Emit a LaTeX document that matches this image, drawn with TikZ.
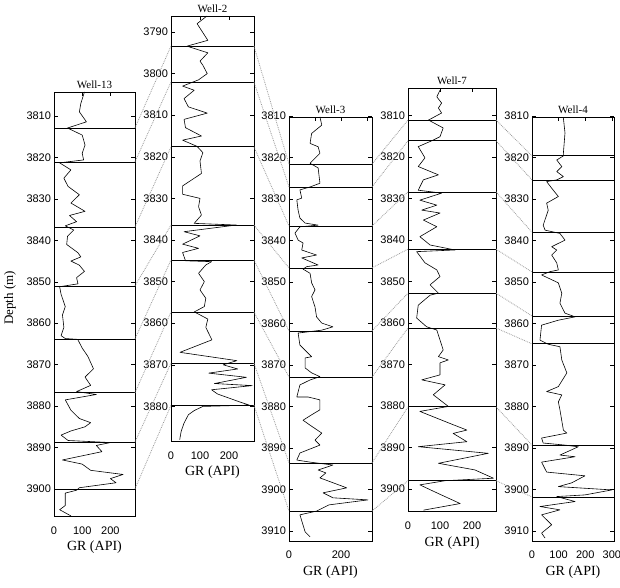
\documentclass[tikz,border=0pt]{standalone}
\usepackage{fontspec}
\setmainfont{Liberation Serif}
\newfontfamily\axisfont{Liberation Sans}
\begin{document}
\begin{tikzpicture}[x=1pt, y=-1pt,
    every node/.style={inner sep=0pt},
    caja/.style={draw, line width=0.7pt},
    limite/.style={line width=0.7pt},
    curva/.style={line width=0.6pt, line join=round},
    marca/.style={line width=0.5pt},
    correl/.style={gray!80, densely dotted, line width=0.8pt},
    prof/.style={font=\axisfont\fontsize{11}{13}\selectfont, anchor=east},
    gr/.style={font=\axisfont\fontsize{11}{13}\selectfont, anchor=north},
    titulo/.style={font=\fontsize{11}{13}\selectfont, anchor=south},
    etiqueta/.style={font=\fontsize{14}{16}\selectfont, anchor=north}
]
\useasboundingbox (0,0) rectangle (620,587);
% Eje de profundidad
\node[font=\fontsize{13}{15}\selectfont, rotate=90] (profundidad) at (10,298) {Depth (m)};
% Well-13
\begin{scope}[shift={(54,116)}, xscale=0.282, yscale=4.144]
\draw[caja] (0,-5.8) rectangle (287,96.5);
\node[titulo] (titulo13) at (143.5,-6.6) {Well-13};
\foreach \t in {0,10,...,90} {
  \pgfmathtruncatemacro\p{3810+\t}
  \draw[marca] (0,\t) -- (14,\t) (287,\t) -- (273,\t);
  \node[prof] at (-10,\t) {\p};
}
\foreach \g in {100,200} \draw[marca] (\g,-5.8) -- (\g,-4.8);
\foreach \g in {0,100,200} \node[gr] at (\g,99) {\g};
\node[etiqueta] (gr13) at (143.5,102.5) {GR (API)};
\draw[curva] plot coordinates {(108,-5.8)(95,-3)(90,-1)(115,1.4)(48,2.9)(100,4.6)(110,7)(100,9)(105,10.6)(20,11.3)(60,13)(35,15)(50,17)(90,19)(60,21)(110,23)(55,24)(80,25.5)(40,26.5)(70,27.5)(48,29)(45,31)(85,33)(95,34)(60,35)(90,36)(108,37.5)(80,39)(85,40.5)(20,41.2)(25,43)(40,46)(30,48)(35,51)(25,53)(40,53.7)(84,53.9)(100,56)(120,58)(140,61)(110,63)(130,65)(80,66.5)(150,67.2)(40,68.5)(60,71)(90,73)(130,74)(110,75)(60,76)(25,77)(50,78.3)(200,78.8)(150,79.5)(170,81)(30,83)(100,84)(130,85.5)(245,86.5)(200,87.5)(220,88.5)(90,89.7)(80,90.3)(40,91)(40,94)(20,95)(60,96.5)};
\foreach \d [count=\i] in {2.9,11.1,26.8,41.0,53.8,66.8,78.7,90.0}
  \draw[limite] (0,\d) coordinate (w13L\i) -- (287,\d) coordinate (w13R\i);
\end{scope}
% Well-2
\begin{scope}[shift={(171,32)}, xscale=0.29, yscale=4.16]
\draw[caja] (0,-3.85) rectangle (286,98.3);
\node[titulo] (titulo2) at (143,-4.6) {Well-2};
\foreach \t in {0,10,...,90} {
  \pgfmathtruncatemacro\p{3790+\t}
  \draw[marca] (0,\t) -- (14,\t) (286,\t) -- (272,\t);
  \node[prof] at (-10,\t) {\p};
}
\foreach \g in {100,200} \draw[marca] (\g,-3.85) -- (\g,-2.85);
\foreach \g in {0,100,200} \node[gr] at (\g,100.8) {\g};
\node[etiqueta] (gr2) at (143,104.3) {GR (API)};
\draw[curva] plot coordinates {(123,-3.8)(90,-2)(127,2)(55,3.4)(127,5)(100,7)(110,8)(125,10)(95,11.5)(40,13)(80,14)(45,16)(60,18)(125,19.5)(45,21)(50,23)(105,25)(40,26)(90,27.5)(110,29)(100,31)(105,34)(40,37)(40,39)(100,40)(95,42)(105,44)(80,46)(225,46.4)(45,48)(100,49)(40,51)(95,52)(40,53)(50,55)(140,55.2)(120,56)(95,58)(115,60)(100,62)(120,64)(115,66)(80,67.3)(100,68)(127,69)(120,71)(141,74)(31,77)(227,79)(180,80)(230,81)(130,82)(260,83)(150,84.5)(280,85)(140,86)(160,87)(240,89)(270,89.7)(110,90)(80,91)(60,92)(45,94)(35,96)(30,98)};
\foreach \d [count=\i] in {3.37,12.0,27.6,46.4,54.8,67.3,79.6,89.7}
  \draw[limite] (0,\d) coordinate (w2L\i) -- (286,\d) coordinate (w2R\i);
\end{scope}
% Well-3
\begin{scope}[shift={(289,116)}, xscale=0.26, yscale=4.15]
\draw[caja] (0,0.24) rectangle (319,102.4);
\node[titulo] (titulo3) at (159.5,-0.6) {Well-3};
\foreach \t in {0,10,...,100} {
  \pgfmathtruncatemacro\p{3810+\t}
  \draw[marca] (0,\t) -- (15,\t) (319,\t) -- (304,\t);
  \node[prof] at (-11,\t) {\p};
}
\foreach \g in {100,200,300} \draw[marca] (\g,0.24) -- (\g,1.24);
\foreach \g in {0,200} \node[gr] at (\g,104.8) {\g};
\node[etiqueta] (gr3) at (159.5,108.4) {GR (API)};
\draw[curva] plot coordinates {(119,0.2)(126,2.2)(87,4.2)(81,6.6)(112,7.4)(119,9)(93,10.6)(81,11.4)(112,12.5)(119,16.2)(81,17.1)(42,17.8)(49,19.8)(30,20.2)(35,22.7)(42,24.6)(62,25.8)(112,26.3)(42,26.7)(23,28.2)(35,29.9)(54,30.6)(49,32.3)(106,33.5)(49,34.2)(112,35.9)(68,36.3)(54,36.9)(81,37.9)(87,40.2)(100,41.9)(87,43.5)(100,46)(106,48.4)(126,49.9)(169,50.8)(126,51.6)(35,52.3)(42,55.2)(87,58)(62,58.3)(62,60.7)(87,61.9)(119,62.8)(81,63.6)(42,64.8)(30,67.7)(73,67.7)(119,68.4)(119,70.8)(87,72)(54,73.3)(81,74.5)(126,76.4)(100,78.1)(119,79.3)(42,81.2)(30,82.9)(81,83.4)(169,84.1)(112,85.3)(142,86)(119,87.2)(222,89.6)(131,90.8)(169,92)(304,92.5)(154,93.7)(106,95.2)(42,96.1)(62,100.2)(81,101.4)};
\foreach \d [count=\i] in {11.6,17.1,26.5,36.6,51.8,62.9,83.6,95.2}
  \draw[limite] (0,\d) coordinate (w3L\i) -- (319,\d) coordinate (w3R\i);
\end{scope}
% Well-7
\begin{scope}[shift={(408,115.5)}, xscale=0.32, yscale=4.15]
\draw[caja] (0,-6.6) rectangle (275,95.4);
\node[titulo] (titulo7) at (137.5,-7.4) {Well-7};
\foreach \t in {0,10,...,90} {
  \pgfmathtruncatemacro\p{3810+\t}
  \draw[marca] (0,\t) -- (12,\t) (275,\t) -- (263,\t);
  \node[prof] at (-9,\t) {\p};
}
\foreach \g in {100,200} \draw[marca] (\g,-6.6) -- (\g,-5.6);
\foreach \g in {0,100,200} \node[gr] at (\g,97.8) {\g};
\node[etiqueta] (gr7) at (137.5,101.4) {GR (API)};
\draw[curva] plot coordinates {(100,-6.1)(90,-4.5)(105,-3)(95,-1.8)(105,-0.6)(64,1.1)(110,3)(100,5.1)(74,6.1)(32,7.5)(53,10.2)(32,12.3)(95,14.3)(48,15.5)(32,18)(105,18.7)(37,20.4)(90,21.6)(43,22.8)(100,23.5)(48,25.2)(90,26.8)(37,29.2)(69,31.2)(147,32.4)(27,32.8)(53,35.5)(90,37.2)(100,38.8)(69,40.8)(95,42.8)(69,43.3)(32,45.7)(27,48.8)(58,50.9)(90,51.7)(100,54.1)(110,56.5)(95,58.1)(126,58.9)(100,59.6)(100,62.5)(43,63.7)(116,64.9)(79,67.3)(126,70.1)(37,71.3)(131,74.2)(184,75.8)(141,76.6)(184,78.6)(32,79.8)(251,81.4)(95,83.8)(209,85.4)(267,87.4)(116,88)(37,89)(95,91.1)(163,93.5)(48,95.1)};
\foreach \d [count=\i] in {1.1,6.1,18.4,32.2,42.8,51.2,70.2,88.0}
  \draw[limite] (0,\d) coordinate (w7L\i) -- (275,\d) coordinate (w7R\i);
\end{scope}
% Well-4
\begin{scope}[shift={(532,116)}, xscale=0.266, yscale=4.15]
\draw[caja] (0,0.24) rectangle (308,102.4);
\node[titulo] (titulo4) at (154,-0.6) {Well-4};
\foreach \t in {0,10,...,100} {
  \pgfmathtruncatemacro\p{3810+\t}
  \draw[marca] (0,\t) -- (15,\t) (308,\t) -- (293,\t);
  \node[prof] at (-11,\t) {\p};
}
\foreach \g in {100,200,300} \draw[marca] (\g,0.24) -- (\g,1.24);
\foreach \g in {0,100,200,300} \node[gr] at (\g,104.8) {\g};
\node[etiqueta] (gr4) at (154,108.4) {GR (API)};
\draw[curva] plot coordinates {(118,0.5)(124,4.1)(118,8.9)(118,9.6)(93,10.6)(112,12.2)(93,13.4)(118,14.6)(93,15.4)(55,15.8)(74,17.4)(99,19.4)(55,21)(61,22.7)(42,26.3)(49,27.5)(105,28.3)(124,29.9)(74,31.5)(93,32.3)(74,33.5)(93,35.4)(99,37.1)(68,37.5)(36,38.3)(99,40.2)(112,42.7)(105,45.1)(124,47.5)(162,48.4)(99,49.2)(36,50.4)(30,54)(61,55)(105,55.6)(112,58.8)(131,61.9)(99,65.2)(55,66.4)(112,67.2)(99,68.9)(105,70.8)(118,75.7)(131,76.4)(36,77.6)(42,78.8)(124,79.3)(174,79.7)(105,81.7)(162,82.1)(36,83.4)(55,85.8)(199,86.7)(149,88.4)(99,89.3)(300,90.1)(199,91.3)(93,91.7)(162,92.9)(30,94.1)(105,94.9)(36,96.1)(74,98.5)(36,100.5)(49,101.7)};
\foreach \d [count=\i] in {9.6,15.4,28.0,37.6,48.2,54.9,79.3,91.8}
  \draw[limite] (0,\d) coordinate (w4L\i) -- (308,\d) coordinate (w4R\i);
\end{scope}
% Correlaciones
\foreach \i in {1,...,8} {
  \draw[correl] (w13R\i) -- (w2L\i);
  \draw[correl] (w2R\i) -- (w3L\i);
  \draw[correl] (w3R\i) -- (w7L\i);
  \draw[correl] (w7R\i) -- (w4L\i);
}
\end{tikzpicture}
\end{document}
